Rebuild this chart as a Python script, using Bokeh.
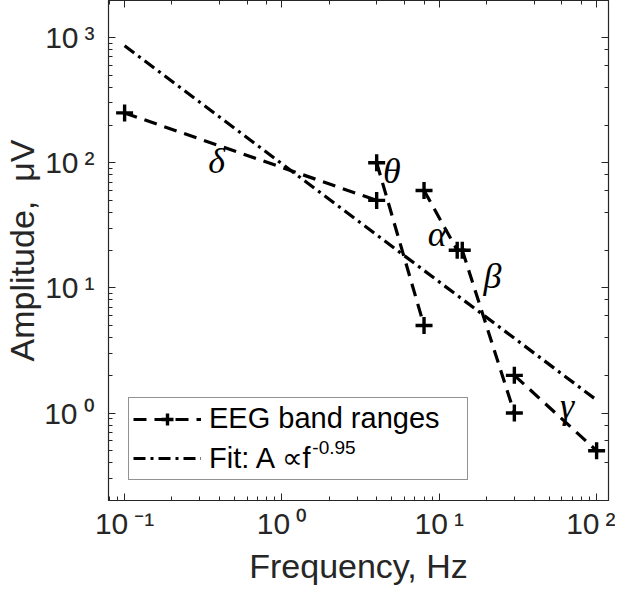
from bokeh.plotting import figure
from bokeh.models import LogAxis, Legend, LegendItem, Label, ColumnDataSource, Range1d
from bokeh.core.properties import value
from bokeh.embed import file_html
from bokeh.resources import INLINE

# ---- data ----
band_names = ["δ", "θ", "α", "β", "γ"]
band_f_start = [0.1, 4, 8, 14, 30]
band_f_end = [4, 8, 13, 30, 100]
band_amp_start = [250, 100, 60, 20, 2]
band_amp_end = [50, 5, 20, 1, 0.5]

label_f = [0.385, 5.0, 9.7, 21.8, 65]
label_amp = [103, 86, 26.7, 12.4, 1.13]

fit_f = [0.1, 100]
fit_amp = [860, 1.27]

x_tick_labels = {0.1: "10\u2009⁻¹", 1: "10\u2009⁰", 10: "10\u2009¹", 100: "10\u2009²"}
y_tick_labels = {1: "10\u2009⁰", 10: "10\u2009¹", 100: "10\u2009²", 1000: "10\u2009³"}

AX = "#262626"
FONT = "Liberation Sans"

p = figure(width=615, height=590, x_axis_type="log", y_axis_type="log",
           x_range=Range1d(0.079, 119), y_range=Range1d(0.2, 1977),
           output_backend="svg", toolbar_location=None,
           min_border_left=108, min_border_right=7, min_border_top=0, min_border_bottom=90)
p.grid.visible = False
p.outline_line_color = AX
p.outline_line_width = 1.2
p.background_fill_color = "white"
p.border_fill_color = "white"

p.add_layout(LogAxis(), "above")
p.add_layout(LogAxis(), "right")

for ax in p.axis:
    ax.major_tick_in = 7
    ax.major_tick_out = 0
    ax.minor_tick_in = 4
    ax.minor_tick_out = 0
    ax.axis_line_color = AX
    ax.major_tick_line_color = AX
    ax.minor_tick_line_color = AX
    ax.major_label_text_color = AX
    ax.major_label_text_font = FONT
    ax.major_label_text_font_size = "30px"
    ax.axis_label_text_font = FONT
    ax.axis_label_text_font_size = "34px"
    ax.axis_label_text_font_style = "normal"
    ax.axis_label_text_color = AX

for ax in (p.above[0], p.right[0]):
    ax.major_label_text_font_size = "1px"
    ax.major_label_text_alpha = 0
    ax.major_label_standoff = 0

xa = p.below[0]
ya = p.left[0]
xa.major_label_overrides = x_tick_labels
ya.major_label_overrides = y_tick_labels
xa.major_label_standoff = 6
ya.major_label_standoff = 14
xa.axis_label = "Frequency, Hz"
ya.axis_label = "Amplitude,\u00a0\u00a0μV"
xa.axis_label_standoff = 4
ya.axis_label_standoff = 0

src = ColumnDataSource(dict(
    xs=[[a, b] for a, b in zip(band_f_start, band_f_end)],
    ys=[[a, b] for a, b in zip(band_amp_start, band_amp_end)],
))
eeg = p.multi_line("xs", "ys", source=src, line_color="black", line_width=3.2, line_dash="13 8")
pts = p.scatter(x=band_f_start + band_f_end, y=band_amp_start + band_amp_end,
                marker="cross", size=17, line_width=3.4, color="black")
fit = p.line(fit_f, fit_amp, line_color="black", line_width=3.2, line_dash="12 5 3 5")

p.text(x=label_f, y=label_amp, text=band_names, text_font=value("Liberation Serif"),
       text_font_style="italic", text_font_size="36px", text_align="center",
       text_baseline="middle", text_color="black")

legend = Legend(items=[LegendItem(label="EEG band ranges", renderers=[eeg, pts]),
                       LegendItem(label="Fit: A \u221df", renderers=[fit])],
                location=(20, 20), glyph_width=68, glyph_height=30, padding=4,
                spacing=6, label_standoff=8, label_width=254, margin=0,
                label_text_font=FONT, label_text_font_size="29px", label_text_color="black",
                border_line_color=AX, border_line_width=1.2,
                background_fill_color="white", background_fill_alpha=0)
p.add_layout(legend, "center")

p.add_layout(Label(x=1.56, y=0.6, x_units="data", y_units="data", text="-0.95",
                   text_font=FONT, text_font_size="19px", text_baseline="top",
                   text_align="left", text_color="black"))

open("out.html", "w").write(file_html(p, INLINE))
